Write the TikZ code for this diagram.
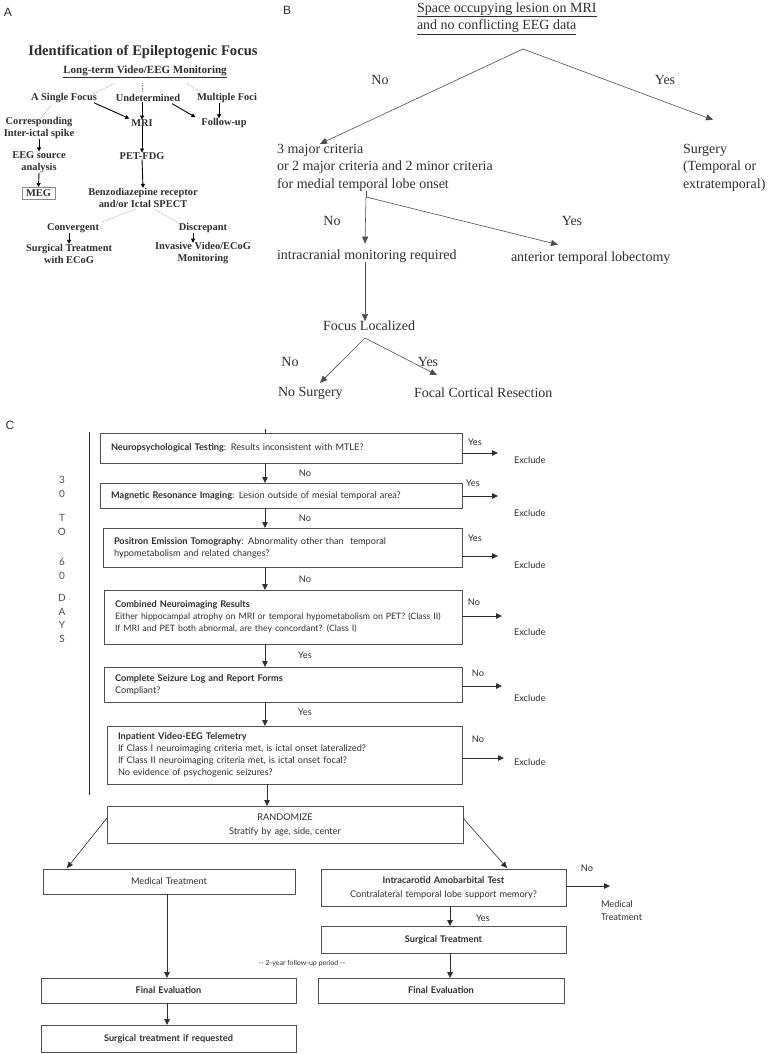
\documentclass[tikz,border=0pt]{standalone}
\usepackage{fontspec}
\usetikzlibrary{arrows.meta,calc}
\setmainfont{Liberation Serif}
\newfontfamily\cfont{Lato}
\newfontfamily\labfont{Liberation Sans}
\definecolor{ink}{HTML}{2E2E2E}
\definecolor{boxline}{HTML}{505050}
\definecolor{dotc}{HTML}{8A8A8A}
\begin{document}
\begin{tikzpicture}[x=1pt,y=-1pt,
  every node/.style={inner sep=0pt,outer sep=0pt},
  panlab/.style={font=\labfont\fontsize{12}{14}\selectfont,text=ink},
  atitle/.style={font=\bfseries\fontsize{14.6}{17}\selectfont,text=ink},
  asub/.style={font=\bfseries\fontsize{11}{13}\selectfont,text=ink},
  atxt/.style={font=\bfseries\fontsize{10.4}{12}\selectfont,text=ink,align=center},
  aarr/.style={line width=0.9pt,-{Triangle[length=4pt,width=4pt]}},
  dotl/.style={draw=dotc,line width=0.6pt,densely dotted},
  btxt/.style={font=\fontsize{14}{17.5}\selectfont,text=ink,align=left},
  barr/.style={draw=ink!85,line width=0.6pt,-{Triangle[length=7pt,width=6pt]}},
  cbox/.style={draw=boxline,line width=0.8pt,inner xsep=11pt,inner ysep=0pt,anchor=north west,
    font=\cfont\fontsize{9.2}{12}\selectfont,text=ink},
  ctxt/.style={font=\cfont\fontsize{9.2}{12.5}\selectfont,text=ink},
  days/.style={font=\cfont\fontsize{10}{12}\selectfont,text=ink!85},
  carr/.style={draw=ink,line width=0.8pt,-{Triangle[length=6pt,width=5.5pt]}}
]
\useasboundingbox (0,0) rectangle (775,1054);

% ---------------- Panel A ----------------
\node[panlab] (labA) at (8,12) {A};
\node[atitle] (atitle) at (143,52) {Identification of Epileptogenic Focus};
\node[asub] (asub) at (145,72) {\underline{Long-term Video/EEG Monitoring}};
\node[atxt] (single) at (64,98) {A Single Focus};
\node[atxt] (undet) at (148,98) {Undetermined};
\node[atxt] (multi) at (227,98) {Multiple Foci};
\node[atxt] (mri) at (142,123) {MRI};
\node[atxt] (follow) at (224,123) {Follow-up};
\node[atxt] (corr) at (39,128) {Corresponding\\Inter-ictal spike};
\node[atxt] (eeg) at (39,162) {EEG source\\analysis};
\node[atxt,draw=dotc,line width=0.5pt,minimum width=33pt,minimum height=12pt] (meg) at (38.5,193) {MEG};
\node[atxt] (pet) at (142,156) {PET-FDG};
\node[atxt] (benz) at (143,197.5) {Benzodiazepine receptor\\and/or Ictal SPECT};
\node[atxt] (conv) at (73,228) {Convergent};
\node[atxt] (disc) at (203,228) {Discrepant};
\node[atxt] (surgA) at (69,253.5) {Surgical Treatment\\with ECoG};
\node[atxt] (inv) at (203,253.5) {Invasive Video/ECoG\\Monitoring};

\draw[dotl] ($(asub.south)+(-30,5)$) -- ($(single.north east)+(-4,1)$);
\draw[dotl] ($(asub.south)+(-3,5)$) -- ($(undet.north)+(-6,-2)$);
\draw[dotl] ($(asub.south)+(42,5)$) -- ($(multi.north west)+(4,0)$);
\draw[dotl] ($(single.south)+(-12,2)$) -- ($(corr.north)+(1,1)$);
\draw[dotl] ($(benz.south)+(-8,2)$) -- ($(conv.north east)+(2,-1)$);
\draw[dotl] ($(benz.south)+(11,2)$) -- ($(disc.north west)+(-1,-1)$);

\draw[aarr] ($(single.south east)+(-3,0)$) -- ($(mri.north west)+(-2,-1)$);
\draw[aarr] (mri.north |- undet.south) -- (mri.north);
\draw[aarr] ($(undet.south east)+(-8,2)$) -- ($(follow.north west)+(-6,-1)$);
\draw[aarr] ($(multi.south)+(-8,0)$) -- ($(follow.north)+(-5,0)$);
\draw[aarr] (corr.south) -- (eeg.north);
\draw[aarr] (eeg.south) -- (meg.north);
\draw[aarr] (mri.south) -- (pet.north);
\draw[aarr] (pet.south) -- (benz.north);
\draw[aarr] (surgA.north |- conv.south) -- (surgA.north);
\draw[aarr] ($(disc.south)+(-10,0)$) -- ($(inv.north)+(-10,0)$);

% ---------------- Panel B ----------------
\node[panlab] (labB) at (287,10) {B};
\node[btxt,anchor=west] (bq) at (417,18.5) {\underline{Space occupying lesion on MRI}\\\underline{and no conflicting EEG data}};
\coordinate (bapex) at (523,49);
\node[btxt,anchor=west] (bcrit) at (277,167.5) {3 major criteria\\or 2 major criteria and 2 minor criteria\\for medial temporal lobe onset};
\node[btxt,anchor=west] (bsurg) at (683,167.5) {Surgery\\(Temporal or\\extratemporal)};
\node[btxt] (bno1) at (380,80) {No};
\node[btxt] (byes1) at (665,80) {Yes};
\draw[barr] (bapex) -- ($(bcrit.north west)+(43,0)$);
\draw[barr] (bapex) -- ($(bsurg.north west)+(30,-24)$);

\coordinate (bv2) at (366,197);
\node[btxt,anchor=west] (bintra) at (277,256) {intracranial monitoring required};
\node[btxt,anchor=west] (bant) at (511,258) {anterior temporal lobectomy};
\node[btxt] (bno2) at (332,221) {No};
\node[btxt] (byes2) at (572,221) {Yes};
\draw[draw=ink!85,line width=0.6pt] ($(bcrit.south west)+(89,0)$) -- (bv2);
\draw[barr] (bv2) -- ($(bintra.north west)+(88,-6)$);
\draw[barr] (bv2) -- ($(bant.north west)+(47,-7)$);

\node[btxt,anchor=west] (bfocus) at (323,326) {Focus Localized};
\draw[barr] ($(bintra.south west)+(88,0)$) -- ($(bfocus.north west)+(42,0)$);
\coordinate (bv3) at (365,338);
\node[btxt,anchor=west] (bnosurg) at (278,393) {No Surgery};
\node[btxt,anchor=west] (bfocal) at (414,393) {Focal Cortical Resection};
\node[btxt] (bno3) at (290,362) {No};
\node[btxt] (byes3) at (428,362) {Yes};
\draw[barr] (bv3) -- ($(bnosurg.north west)+(42,-4)$);
\draw[barr] (bv3) -- ($(bfocal.north west)+(23,-13)$);

% ---------------- Panel C ----------------
\node[panlab] (labC) at (10,425) {C};
\coordinate (vtop) at (89,432);
\coordinate (vbot) at (89,795);
\draw[draw=ink,line width=0.8pt] (vtop) -- (vbot);
\foreach \ch/\yy in {3/480,0/494,T/518,O/532,6/562,0/575.5,D/598,A/612,Y/625,S/638.5}
  \node[days] (d\yy) at (62,\yy) {\ch};

\node[cbox,minimum width=362pt,minimum height=30pt,text width=340pt,align=left] (n1) at (100,433)
  {\textbf{Neuropsychological Testing}: Results inconsistent with MTLE?};
\node[cbox,minimum width=362pt,minimum height=25pt,text width=340pt,align=left] (n2) at (100,483)
  {\textbf{Magnetic Resonance Imaging}: Lesion outside of mesial temporal area?};
\node[cbox,minimum width=359pt,minimum height=39pt,text width=337pt,align=left] (n3) at (103,528)
  {\textbf{Positron Emission Tomography}: Abnormality other than\ \ temporal\\hypometabolism and related changes?};
\node[cbox,minimum width=358pt,minimum height=54pt,text width=336pt,align=left,font=\cfont\fontsize{8.8}{11.7}\selectfont] (n4) at (104,590)
  {\textbf{\fontsize{9.2}{11.7}\selectfont Combined Neuroimaging Results}\\\mbox{Either hippocampal atrophy on MRI or temporal hypometabolism on PET? (Class II)}\\If MRI and PET both abnormal, are they concordant? (Class I)};
\node[cbox,minimum width=358pt,minimum height=35pt,text width=336pt,align=left] (n5) at (104,667)
  {\textbf{Complete Seizure Log and Report Forms}\\Compliant?};
\node[cbox,minimum width=355pt,minimum height=58pt,text width=333pt,align=left] (n6) at (107,726)
  {\textbf{Inpatient Video-EEG Telemetry}\\If Class I neuroimaging criteria met, is ictal onset lateralized?\\If Class II neuroimaging criteria met, is ictal onset focal?\\No evidence of psychogenic seizures?};
\node[cbox,minimum width=356pt,minimum height=37pt,text width=334pt,align=center,font=\cfont\fontsize{9.2}{14}\selectfont] (rand) at (107,806)
  {RANDOMIZE\\Stratify by age, side, center};
\node[cbox,minimum width=252pt,minimum height=25pt,text width=230pt,align=center] (med) at (43,869) {Medical Treatment};
\node[cbox,minimum width=245pt,minimum height=37pt,text width=223pt,align=center,font=\cfont\fontsize{9.2}{14}\selectfont] (iat) at (321,869)
  {\textbf{Intracarotid Amobarbital Test}\\Contralateral temporal lobe support memory?};
\node[cbox,minimum width=245pt,minimum height=27pt,text width=223pt,align=center] (surgC) at (321,926) {\textbf{Surgical Treatment}};
\node[cbox,minimum width=246pt,minimum height=25pt,text width=224pt,align=center] (fer) at (318,978) {\textbf{Final Evaluation}};
\node[cbox,minimum width=255pt,minimum height=25pt,text width=233pt,align=center] (fel) at (41,978) {\textbf{Final Evaluation}};
\node[cbox,minimum width=255pt,minimum height=27pt,text width=233pt,align=center] (sreq) at (41,1025) {\textbf{Surgical treatment if requested}};

% vertical chain
\coordinate (xc) at (265,0);
\coordinate (xr) at (267,0);
\draw[draw=ink,line width=0.8pt] (n1.north -| xc) -- ++(0,-4);
\draw[carr] (n1.south -| xc) -- (n2.north -| xc);
\draw[carr] (n2.south -| xc) -- (n3.north -| xc);
\draw[carr] (n3.south -| xc) -- (n4.north -| xc);
\draw[carr] (n4.south -| xc) -- (n5.north -| xc);
\draw[carr] (n5.south -| xc) -- (n6.north -| xc);
\draw[carr] (n6.south -| xr) -- (rand.north -| xr);
\node[ctxt] (no1) at (305,473) {No};
\node[ctxt] (no2) at (305,518) {No};
\node[ctxt] (no3) at (305,579) {No};
\node[ctxt] (yes4) at (305,655) {Yes};
\node[ctxt] (yes5) at (305,712) {Yes};

% exits
\draw[carr] ($(n1.north east)+(0,20)$) -- ++(36,0) coordinate (x1);
\draw[carr] ($(n2.north east)+(0,13)$) -- ++(36,0) coordinate (x2);
\draw[carr] ($(n3.north east)+(0,28)$) -- ++(36,0) coordinate (x3);
\draw[carr] ($(n4.north east)+(0,26)$) -- ++(40,0) coordinate (x4);
\draw[carr] ($(n5.north east)+(0,19)$) -- ++(40,0) coordinate (x5);
\draw[carr] ($(n6.north east)+(0,32)$) -- ++(42,0) coordinate (x6);
\node[ctxt] (ey1) at (475,442) {Yes};
\node[ctxt] (ey2) at (473,483) {Yes};
\node[ctxt] (ey3) at (475,538) {Yes};
\node[ctxt] (en4) at (474,602) {No};
\node[ctxt] (en5) at (478,673) {No};
\node[ctxt] (en6) at (478,739) {No};
\node[ctxt,anchor=west] (ex1) at (514,460) {Exclude};
\node[ctxt,anchor=west] (ex2) at (514,513) {Exclude};
\node[ctxt,anchor=west] (ex3) at (514,565) {Exclude};
\node[ctxt,anchor=west] (ex4) at (514,632) {Exclude};
\node[ctxt,anchor=west] (ex5) at (514,698) {Exclude};
\node[ctxt,anchor=west] (ex6) at (514,762) {Exclude};

% randomize branches
\draw[carr,line width=0.6pt] ($(rand.north west)+(0,12)$) -- ($(med.north west)+(24,-1)$);
\draw[carr,line width=0.6pt] ($(rand.north east)+(0,12)$) -- ($(iat.north west)+(186,-1)$);
\draw[carr] ($(iat.north east)+(0,17)$) -- ++(44,0) coordinate (x7);
\node[ctxt] (iatno) at (587,868) {No};
\node[ctxt,anchor=west,align=left,font=\cfont\fontsize{9.2}{13.5}\selectfont] (iatmed) at (601,910.5) {Medical\\Treatment};
\coordinate (xs) at (450,0);
\coordinate (xm) at (167,0);
\draw[carr] (iat.south -| xs) -- (surgC.north -| xs);
\node[ctxt] (iatyes) at (483,918) {Yes};
\draw[carr] (surgC.south -| xs) -- (fer.north -| xs);
\draw[carr] (med.south -| xm) -- (fel.north -| xm);
\draw[carr] (fel.south -| xm) -- (sreq.north -| xm);
\node[ctxt,font=\cfont\fontsize{7}{8}\selectfont] (fup) at (302,964) {-- 2-year follow-up period --};
\end{tikzpicture}
\end{document}
